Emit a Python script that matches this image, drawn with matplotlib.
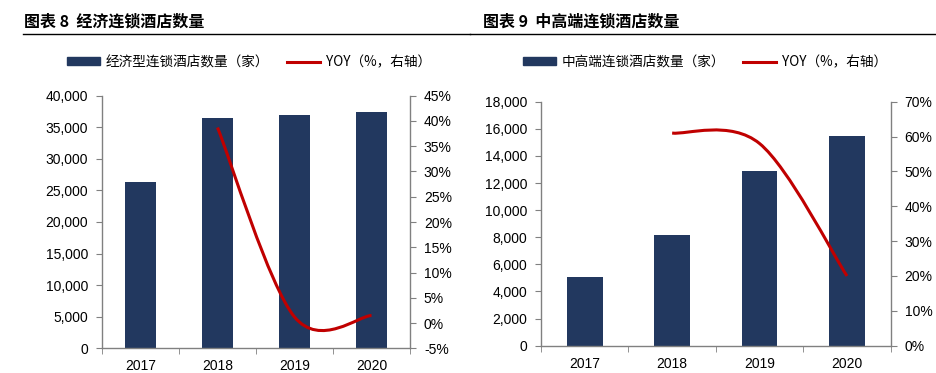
import numpy as np
import matplotlib
matplotlib.use("Agg")
import matplotlib.pyplot as plt
from matplotlib.path import Path
from matplotlib.patches import PathPatch
from matplotlib.lines import Line2D
from matplotlib.ticker import FuncFormatter, FixedLocator

# ---------------- data ----------------
years = ["2017", "2018", "2019", "2020"]
economy_hotels = [26300, 36400, 36950, 37450]
economy_yoy = [None, 38.7, 1.2, 1.5]
midhigh_hotels = [5090, 8160, 12890, 15450]
midhigh_yoy = [None, 61.0, 58.0, 20.0]

title_left = "图表 8  经济连锁酒店数量"
title_right = "图表 9  中高端连锁酒店数量"
legend_bar_left = "经济型连锁酒店数量（家）"
legend_bar_right = "中高端连锁酒店数量（家）"
legend_line = "YOY（%，右轴）"

BAR = "#22385F"
RED = "#C00000"
GRAY = "#808080"
CJK = ["Noto Sans CJK SC", "DejaVu Sans"]
LAT = ["Liberation Sans", "DejaVu Sans"]

W, H = 937, 373
fig = plt.figure(figsize=(W / 100, H / 100), dpi=100)


def fx(px):
    return px / W


def fy(py):
    return 1 - py / H


def smooth(xs, ys):
    """Excel-like smoothed line: cubic Bezier with 1/6 neighbour tangents."""
    pts = np.column_stack([xs, ys]).astype(float)
    verts = [pts[0]]
    codes = [Path.MOVETO]
    m = len(pts)
    for i in range(m - 1):
        p0 = pts[i - 1] if i > 0 else pts[i]
        p1 = pts[i]
        p2 = pts[i + 1]
        p3 = pts[i + 2] if i + 2 < m else pts[i + 1]
        c1 = p1 + (p2 - p0) / 6
        c2 = p2 - (p3 - p1) / 6
        verts += [c1, c2, p2]
        codes += [Path.CURVE4] * 3
    return Path(verts, codes)


def make_panel(box, counts, yoy, ylim, ystep, rlim, rstep, title, title_x,
               line_x0, line_x1, leg_bar_text, leg_pos):
    left, right, top, bottom = box
    ax = fig.add_axes([fx(left), fy(bottom), fx(right) - fx(left), fy(top) - fy(bottom)])
    x = np.arange(len(years))
    ax.bar(x, counts, width=0.41, color=BAR, edgecolor="none", zorder=2)
    ax.set_xlim(-0.5, len(years) - 0.5)
    ax.set_ylim(*ylim)
    ax.set_yticks(np.arange(ylim[0], ylim[1] + 1, ystep))
    ax.yaxis.set_major_formatter(FuncFormatter(lambda v, p: f"{int(v):,}"))
    ax.set_xticks(x)
    ax.set_xticklabels(years)
    ax.xaxis.set_minor_locator(FixedLocator(np.arange(-0.5, len(years), 1.0)))
    ax.tick_params(axis="x", which="major", length=0, pad=8, labelsize=10, colors="black")
    ax.tick_params(axis="x", which="minor", length=4, direction="out", color=GRAY)
    ax.tick_params(axis="y", length=4, direction="out", color=GRAY, labelsize=10, pad=6)
    for lab in ax.get_xticklabels() + ax.get_yticklabels():
        lab.set_family(LAT)
    for s in ["top", "right"]:
        ax.spines[s].set_visible(False)
    for s in ["left", "bottom"]:
        ax.spines[s].set_color(GRAY)
        ax.spines[s].set_linewidth(1.0)

    ax2 = ax.twinx()
    ax2.set_ylim(*rlim)
    ax2.set_yticks(np.arange(rlim[0], rlim[1] + 0.1, rstep))
    ax2.yaxis.set_major_formatter(FuncFormatter(lambda v, p: f"{int(round(v))}%"))
    ax2.tick_params(axis="y", length=4, direction="out", color=GRAY, labelsize=10, pad=6)
    for lab in ax2.get_yticklabels():
        lab.set_family(LAT)
    for s in ["top", "left", "bottom"]:
        ax2.spines[s].set_visible(False)
    ax2.spines["right"].set_color(GRAY)
    ax2.spines["right"].set_linewidth(1.0)

    xs = [i for i, v in enumerate(yoy) if v is not None]
    ys = [v for v in yoy if v is not None]
    path = smooth(xs, ys)
    ax2.add_patch(PathPatch(path, facecolor="none", edgecolor=RED, lw=2.2,
                            capstyle="butt", zorder=3))

    # title and rule
    fig.text(fx(title_x), fy(22), title, fontsize=11.5, fontweight="bold",
             family=CJK, ha="left", va="center")
    fig.add_artist(Line2D([fx(line_x0), fx(line_x1)], [fy(34), fy(34)],
                          color="black", lw=1.0))

    # legend
    hb = plt.Rectangle((0, 0), 1, 1, color=BAR)
    hl = Line2D([], [], color=RED, lw=2.2)
    ax.legend([hb, hl], [leg_bar_text, legend_line], ncol=2, frameon=False,
              loc="center left", bbox_to_anchor=(fx(leg_pos), fy(62)),
              bbox_transform=fig.transFigure, prop={"family": CJK, "size": 9.8},
              handlelength=2.4, handleheight=0.45, handletextpad=0.45,
              columnspacing=1.3, borderpad=0, borderaxespad=0)
    return ax, ax2


make_panel((102, 410, 95.7, 348.3), economy_hotels, economy_yoy,
           (0, 40000), 5000, (-5, 45), 5, title_left, 24, 23, 470,
           legend_bar_left, 67)
make_panel((541, 890.7, 101.7, 345.7), midhigh_hotels, midhigh_yoy,
           (0, 18000), 2000, (0, 70), 10, title_right, 483, 470, 937,
           legend_bar_right, 523)

fig.savefig("out.png", dpi=100)
